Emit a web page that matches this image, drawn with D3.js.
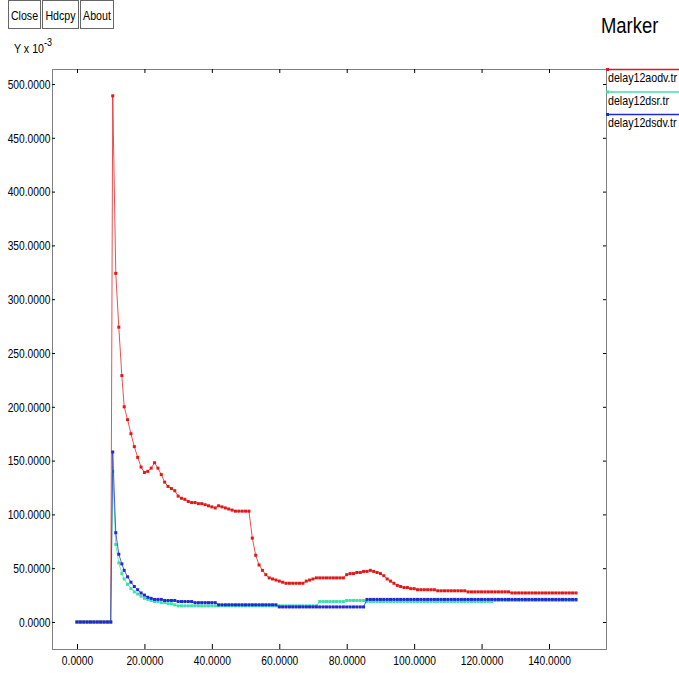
<!DOCTYPE html>
<meta charset="utf-8">
<style type="text/css">
  body { margin: 0; background: #fff; }
  svg { font-family: "Liberation Sans", Arial, sans-serif; }
  .frame { fill: none; stroke: #000; stroke-width: 1; stroke-dasharray: 1,1; }
  .axis path { display: none; }
  .axis line { stroke: #000; }
  .axis text { font-size: 12px; fill: #000; font-family: "Liberation Sans", Arial, sans-serif; }
  .trace { fill: none; stroke-width: 1; }
  .btn rect { fill: #fff; stroke: #666; }
  .btn text { font-size: 13px; }
</style>
<body>
<svg width="679" height="673"></svg>
<script src="https://d3js.org/d3.v7.min.js"></script>
<script>

  // sampling times (s)
  var times = [0, 1, 2, 3, 4, 5, 6, 7, 8, 9, 10, 10.6, 11.5, 12.4, 13.3].concat(d3.range(14, 149));

  var aodv = [0, 0, 0, 0, 0, 0, 0, 0, 0, 0, 0,
    489, 324, 274, 229,
    200, 188, 175, 163, 153, 144,
    139, 140, 143, 148, 143, 137, 130, 126, 124, 122,
    117, 115, 114, 112, 111, 111, 110, 110, 109, 108,
    107, 106, 108, 107, 106, 105, 104, 103, 103, 103,
    103, 103, 78, 62, 53, 48, 44, 41, 40, 39,
    38, 37, 36, 36, 36, 36, 36, 36, 38, 39,
    40, 41, 41, 41, 41, 41, 41, 41, 41, 41,
    44, 45, 45, 46, 46, 47, 47, 48, 47, 46,
    45, 43, 40, 38, 36, 34, 33, 32, 32, 31,
    31, 30, 30, 30, 30, 30, 30, 29, 29, 29,
    29, 29, 29, 29, 29, 29, 28, 28, 28, 28,
    28, 28, 28, 28, 28, 28, 28, 28, 28, 27,
    27, 27, 27, 27, 27, 27, 27, 27, 27, 27,
    27, 27, 27, 27, 27, 27, 27, 27, 27];

  var dsr = [0, 0, 0, 0, 0, 0, 0, 0, 0, 0, 0,
    140, 72, 55, 45,
    40, 35, 31, 28, 26, 24,
    22, 21, 20, 19, 19, 18, 18, 17, 17, 16,
    15, 15, 15, 15, 15, 15, 15, 15, 15, 15,
    15, 15, 15, 15, 15, 15, 15, 15, 15, 15,
    15, 15, 15, 15, 15, 15, 15, 15, 15, 15,
    15, 15, 15, 15, 15, 15, 15, 15, 15, 15,
    15, 15, 19, 19, 19, 19, 19, 19, 19, 19,
    20, 20, 20, 20, 20, 20, 19, 19, 19, 19,
    19, 19, 19, 19, 19, 19, 19, 19, 19, 19,
    19, 19, 19, 19, 19, 19, 19, 19, 19, 19,
    19, 19, 19, 19, 19, 19, 19, 19, 19, 19,
    19, 19, 19, 19, 20, 20, 20, 20, 20, 20,
    20, 20, 20, 20, 20, 20, 20, 20, 20, 20,
    20, 20, 20, 20, 20, 20, 20, 20, 20];

  var dsdv = [0, 0, 0, 0, 0, 0, 0, 0, 0, 0, 0,
    158, 83, 63, 54,
    48, 42, 37, 33, 30, 27,
    25, 23, 22, 21, 21, 21, 20, 20, 20, 20,
    19, 19, 19, 19, 19, 18, 18, 18, 18, 18,
    18, 18, 16, 16, 16, 16, 16, 16, 16, 16,
    16, 16, 16, 16, 16, 16, 16, 16, 16, 16,
    14, 14, 14, 14, 14, 14, 14, 14, 14, 14,
    14, 14, 14, 14, 14, 14, 14, 14, 14, 14,
    14, 14, 14, 14, 14, 14, 21, 21, 21, 21,
    21, 21, 21, 21, 21, 21, 21, 21, 21, 21,
    21, 21, 21, 21, 21, 21, 21, 21, 21, 21,
    21, 21, 21, 21, 21, 21, 21, 21, 21, 21,
    21, 21, 21, 21, 21, 21, 21, 21, 21, 21,
    21, 21, 21, 21, 21, 21, 21, 21, 21, 21,
    21, 21, 21, 21, 21, 21, 21, 21, 21];

  var seriesNames = ["delay12aodv.tr", "delay12dsr.tr", "delay12dsdv.tr"];
  var seriesColors = ["#e01818", "#3ce0a8", "#1f2ad0"];
  var seriesValues = [aodv, dsr, dsdv];

  var xTicks = [0, 20, 40, 60, 80, 100, 120, 140];
  var yTicks = [0, 50, 100, 150, 200, 250, 300, 350, 400, 450, 500];
  var buttons = ["Close", "Hdcpy", "About"];

  var svg = d3.select("svg");
  var narrow = "scale(0.82,1)";

  // plot frame
  var fLeft = 52, fRight = 606, fTop = 69, fBottom = 649;

  var x = d3.scaleLinear().domain([0, 140]).range([77, 549]);
  var y = d3.scaleLinear().domain([0, 500]).range([622, 84]);

  svg.append("rect")
    .attr("class", "frame")
    .attr("x", fLeft + 0.5).attr("y", fTop + 0.5)
    .attr("width", fRight - fLeft).attr("height", fBottom - fTop);

  /* Axes */
  var fmt = d3.format(".4f");

  svg.append("g")
    .attr("class", "axis")
    .attr("transform", "translate(" + fLeft + ",0)")
    .call(d3.axisLeft(y).tickValues(yTicks).tickFormat(fmt).tickSizeInner(-3).tickPadding(2))
    .selectAll("text").style("font-size", "12.5px").attr("dy", "0.35em").attr("transform", narrow);

  svg.append("g")
    .attr("class", "axis")
    .attr("transform", "translate(" + fRight + ",0)")
    .call(d3.axisRight(y).tickValues(yTicks).tickFormat("").tickSizeInner(-3));

  svg.append("g")
    .attr("class", "axis")
    .attr("transform", "translate(0," + fBottom + ")")
    .call(d3.axisBottom(x).tickValues(xTicks).tickFormat(fmt).tickSizeInner(-5).tickPadding(7))
    .selectAll("text").style("font-size", "12.5px").attr("transform", narrow);

  svg.append("g")
    .attr("class", "axis")
    .attr("transform", "translate(0," + fTop + ")")
    .call(d3.axisTop(x).tickValues(xTicks).tickFormat("").tickSizeInner(-4));

  /* Traces */
  var line = d3.line()
    .x(function(d) { return x(d[0]); })
    .y(function(d) { return y(d[1]); });

  seriesValues.forEach(function(vals, s) {
    var pts = times.map(function(t, i) { return [t, vals[i]]; });
    var g = svg.append("g");
    g.append("path")
      .attr("class", "trace")
      .attr("d", line(pts))
      .attr("stroke", seriesColors[s])
      .attr("stroke-opacity", 0.75);
    g.selectAll("rect")
      .data(pts)
      .enter().append("rect")
        .attr("x", function(d) { return x(d[0]) - 1.5; })
        .attr("y", function(d) { return y(d[1]) - 1.5; })
        .attr("width", 3)
        .attr("height", 3)
        .attr("fill", seriesColors[s]);
  });

  /* Legend */
  var legend = svg.append("g").attr("transform", "translate(" + fRight + "," + fTop + ")");
  seriesNames.forEach(function(name, i) {
    var ly = i * 22.5;
    legend.append("line")
      .attr("x1", 0).attr("x2", 80)
      .attr("y1", ly + 0.5).attr("y2", ly + 0.5)
      .attr("stroke", seriesColors[i]).attr("stroke-width", 1.5);
    legend.append("rect")
      .attr("x", 0).attr("y", ly - 1)
      .attr("width", 3).attr("height", 3)
      .attr("fill", seriesColors[i]);
    legend.append("text")
      .attr("transform", "translate(2," + (ly + 13) + ") " + narrow)
      .style("font-size", "13px")
      .text(name);
  });

  /* Title and Y label */
  svg.append("text")
    .attr("transform", "translate(601,33) " + narrow)
    .style("font-size", "22.5px")
    .text("Marker");

  var ylab = svg.append("text")
    .attr("transform", "translate(14,53) " + narrow)
    .style("font-size", "13px");
  ylab.append("tspan").text("Y x 10");
  ylab.append("tspan").attr("dy", -7).style("font-size", "11px").text("-3");

  /* Buttons */
  var bx = [8, 42, 80];
  var bw = [32, 36, 33];
  buttons.forEach(function(b, i) {
    var g = svg.append("g").attr("class", "btn");
    g.append("rect")
      .attr("x", bx[i] + 0.5).attr("y", 0.5)
      .attr("width", bw[i]).attr("height", 28);
    g.append("text")
      .attr("transform", "translate(" + (bx[i] + bw[i] / 2 + 0.5) + ",20) " + narrow)
      .attr("text-anchor", "middle")
      .text(b);
  });

</script>
</body>
